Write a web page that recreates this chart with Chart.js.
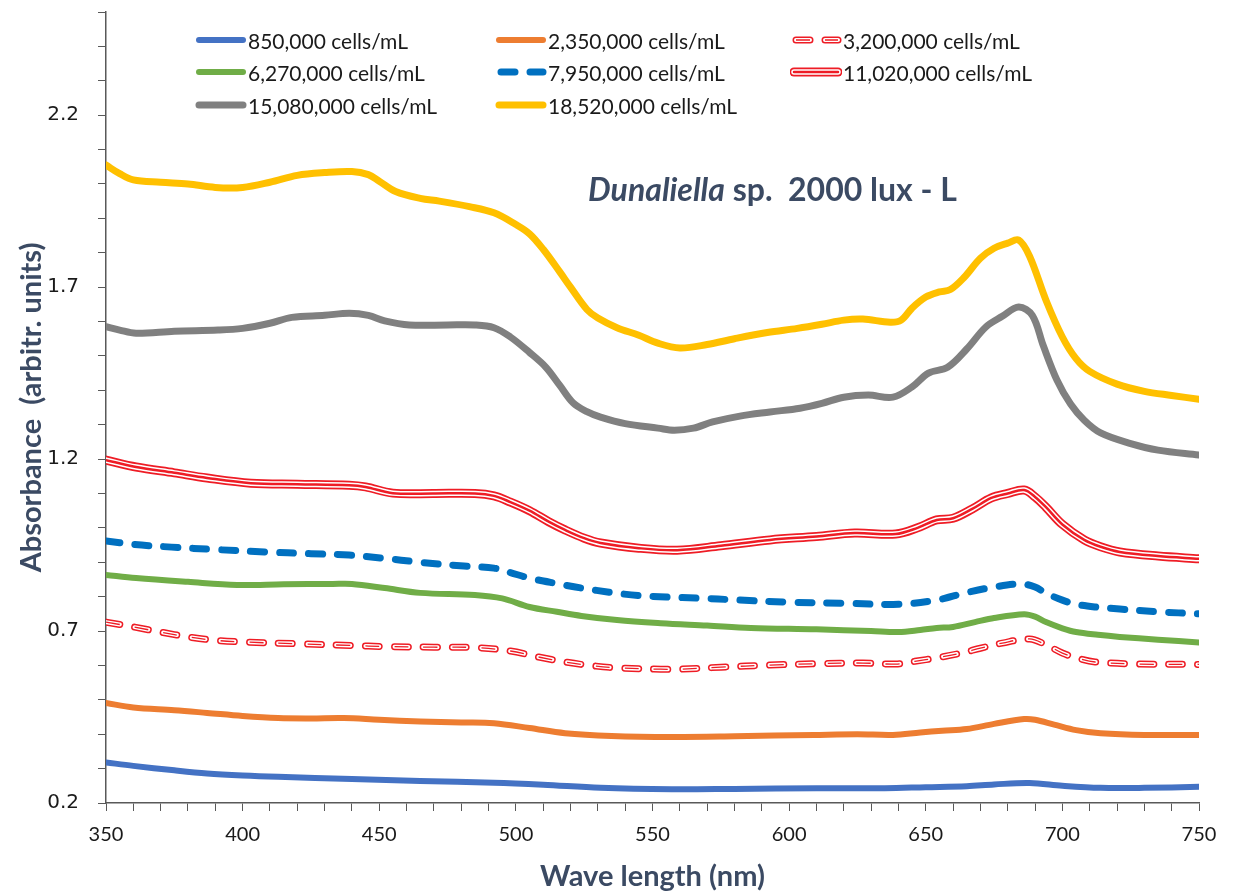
<!DOCTYPE html>
<html>
<head>
<meta charset="utf-8">
<script src="https://cdn.jsdelivr.net/npm/chart.js@4.4.1/dist/chart.umd.min.js"></script>
<style>
    html, body { margin: 0; padding: 0; background: #fff; }
    #wrap { position: relative; width: 1234px; height: 894px; }
    #legend { position: absolute; left: 0; top: 0; }
    .lg-item { position: absolute; height: 30px; display: flex; align-items: center;
               font-family: Lato, 'Open Sans', sans-serif; font-size: 21px; color: #1a1a1a; white-space: nowrap; }
    .lg-item svg { display: block; margin-right: 1px; }
    #title { position: absolute; left: 588px; top: 170px; font-family: Lato, 'Open Sans', sans-serif;
             font-weight: bold; font-size: 32px; line-height: 38px; color: #3b4a63; white-space: pre; }
</style>
</head>
<body>
<div id="wrap">
    <canvas id="myChart"></canvas>
    <div id="title"><i>Dunaliella</i> sp.  2000 lux - L</div>
    <div id="legend"></div>
</div>
<script>
// values (wavelength in nm, absorbance in arbitr. units)
var seriesLabels = ['850,000 cells/mL', '2,350,000 cells/mL', '3,200,000 cells/mL', '6,270,000 cells/mL',
    '7,950,000 cells/mL', '11,020,000 cells/mL', '15,080,000 cells/mL', '18,520,000 cells/mL'];

var wl850 = [350, 360, 375, 387, 400, 413, 440, 465, 492, 510, 531, 557, 580, 610, 635, 650, 665, 675, 688, 700, 714, 730, 750];
var abs850 = [0.318, 0.308, 0.295, 0.286, 0.280, 0.276, 0.270, 0.264, 0.259, 0.253, 0.244, 0.240, 0.241, 0.243, 0.243, 0.246, 0.249, 0.254, 0.258, 0.250, 0.244, 0.244, 0.247];

var wl2350 = [350, 360, 375, 387, 400, 413, 425, 437, 450, 465, 480, 492, 505, 518, 535, 557, 580, 609, 625, 638, 648, 656, 665, 675, 686, 690, 697, 705, 714, 730, 750];
var abs2350 = [0.491, 0.478, 0.470, 0.462, 0.453, 0.447, 0.446, 0.447, 0.442, 0.437, 0.434, 0.432, 0.418, 0.403, 0.395, 0.392, 0.394, 0.398, 0.400, 0.398, 0.405, 0.410, 0.415, 0.430, 0.444, 0.442, 0.428, 0.412, 0.403, 0.398, 0.398];

var wl3200 = [350, 360, 370, 380, 390, 401, 420, 440, 452, 470, 485, 498, 508, 518, 527, 537, 553, 560, 575, 593, 610, 627, 639, 646, 654, 663, 670, 678, 688, 694, 700, 706, 712, 728, 750];
var abs3200 = [0.726, 0.712, 0.697, 0.683, 0.673, 0.668, 0.663, 0.658, 0.655, 0.653, 0.652, 0.642, 0.625, 0.610, 0.600, 0.593, 0.589, 0.589, 0.595, 0.601, 0.605, 0.607, 0.604, 0.612, 0.622, 0.636, 0.650, 0.665, 0.677, 0.660, 0.636, 0.620, 0.610, 0.604, 0.603];

var wl6270 = [350, 361, 380, 398, 415, 433, 440, 452, 465, 485, 495, 505, 515, 524, 537, 553, 570, 586, 610, 630, 640, 648, 654, 660, 668, 675, 686, 690, 694, 700, 705, 713, 721, 735, 750];
var abs6270 = [0.863, 0.854, 0.843, 0.834, 0.836, 0.837, 0.837, 0.825, 0.811, 0.805, 0.795, 0.770, 0.756, 0.744, 0.732, 0.723, 0.716, 0.709, 0.705, 0.700, 0.697, 0.703, 0.709, 0.712, 0.726, 0.738, 0.749, 0.742, 0.726, 0.708, 0.697, 0.689, 0.683, 0.675, 0.667];

var wl7950 = [350, 360, 374, 390, 408, 425, 439, 451, 465, 481, 492, 498, 505, 515, 524, 535, 545, 555, 566, 582, 600, 620, 640, 654, 664, 675, 685, 690, 694, 700, 705, 712, 721, 735, 750];
var abs7950 = [0.962, 0.952, 0.944, 0.937, 0.930, 0.925, 0.921, 0.912, 0.900, 0.889, 0.883, 0.870, 0.854, 0.838, 0.825, 0.812, 0.803, 0.799, 0.796, 0.790, 0.784, 0.781, 0.778, 0.790, 0.810, 0.828, 0.837, 0.828, 0.810, 0.790, 0.778, 0.770, 0.764, 0.756, 0.750];

var wl11020 = [350, 361, 375, 387, 403, 420, 439, 445, 455, 470, 485, 492, 498, 505, 512, 518, 525, 531, 545, 559, 575, 593, 610, 624, 639, 647, 654, 660, 667, 674, 680, 686, 690, 694, 700, 708, 714, 721, 735, 750];
var abs11020 = [1.197, 1.177, 1.160, 1.145, 1.130, 1.127, 1.124, 1.119, 1.101, 1.100, 1.100, 1.093, 1.075, 1.050, 1.018, 0.994, 0.970, 0.956, 0.941, 0.935, 0.948, 0.965, 0.975, 0.985, 0.982, 1.000, 1.023, 1.028, 1.055, 1.087, 1.100, 1.110, 1.090, 1.060, 1.010, 0.965, 0.945, 0.930, 0.918, 0.910];

var wl15080 = [350, 355, 361, 375, 391, 400, 410, 418, 430, 439, 446, 452, 461, 475, 485, 492, 498, 505, 511, 516, 521, 526, 531, 540, 552, 558, 565, 572, 582, 593, 604, 612, 620, 629, 638, 645, 651, 658, 665, 672, 678, 684, 689, 693, 698, 703, 708, 714, 725, 735, 750];
var abs15080 = [1.585, 1.575, 1.566, 1.572, 1.575, 1.580, 1.595, 1.612, 1.618, 1.624, 1.618, 1.602, 1.590, 1.590, 1.590, 1.582, 1.555, 1.510, 1.467, 1.415, 1.363, 1.338, 1.322, 1.303, 1.290, 1.284, 1.290, 1.308, 1.325, 1.337, 1.348, 1.362, 1.380, 1.386, 1.380, 1.410, 1.450, 1.467, 1.520, 1.584, 1.615, 1.642, 1.618, 1.530, 1.430, 1.360, 1.313, 1.276, 1.245, 1.226, 1.212];

var wl18520 = [350, 355, 360, 370, 380, 390, 400, 410, 420, 430, 440, 446, 450, 456, 465, 472, 483, 492, 500, 505, 510, 516, 520, 526, 530, 537, 545, 552, 560, 570, 580, 592, 603, 612, 620, 627, 637, 641, 645, 650, 655, 659, 664, 670, 675, 680, 684, 688, 694, 700, 705, 710, 720, 730, 740, 750];
var abs18520 = [2.055, 2.030, 2.012, 2.005, 2.000, 1.990, 1.990, 2.005, 2.025, 2.033, 2.036, 2.027, 2.008, 1.978, 1.958, 1.950, 1.934, 1.916, 1.882, 1.855, 1.810, 1.745, 1.700, 1.635, 1.610, 1.582, 1.560, 1.537, 1.523, 1.533, 1.550, 1.568, 1.580, 1.592, 1.604, 1.607, 1.598, 1.604, 1.639, 1.671, 1.686, 1.693, 1.728, 1.784, 1.813, 1.828, 1.837, 1.790, 1.662, 1.555, 1.492, 1.455, 1.418, 1.397, 1.385, 1.374];

var xTicksMajor = [350, 400, 450, 500, 550, 600, 650, 700, 750];
var yTicksMajor = [0.2, 0.7, 1.2, 1.7, 2.2];

var RED = '#ee1c25';
var TXT = '#3b4a63';

function pts(xs, ys) {
    return xs.map(function (x, i) { return { x: x, y: ys[i] }; });
}

// one entry per legend item; some need several stacked strokes (compound lines)
var styles = [
    { layers: [{ color: '#4472c4', width: 6 }] },
    { layers: [{ color: '#ed7d31', width: 6 }] },
    { layers: [{ color: RED, width: 7, dash: [14, 15] }, { color: '#fff', width: 4, dash: [14, 15] }, { color: RED, width: 1.3, dash: [14, 15], cap: 'butt' }] },
    { layers: [{ color: '#70ad47', width: 6 }] },
    { layers: [{ color: '#0070c0', width: 7, dash: [14, 15] }] },
    { layers: [{ color: RED, width: 9 }, { color: '#fff', width: 5.5 }, { color: RED, width: 2.5 }] },
    { layers: [{ color: '#808080', width: 7 }] },
    { layers: [{ color: '#ffc000', width: 7 }] }
];
var seriesData = [
    pts(wl850, abs850), pts(wl2350, abs2350), pts(wl3200, abs3200), pts(wl6270, abs6270),
    pts(wl7950, abs7950), pts(wl11020, abs11020), pts(wl15080, abs15080), pts(wl18520, abs18520)
];

var datasets = [];
styles.forEach(function (st, i) {
    var n = st.layers.length;
    st.layers.forEach(function (ly, k) {
        datasets.push({
            label: seriesLabels[i],
            data: seriesData[i],
            borderColor: ly.color,
            borderWidth: ly.width,
            borderDash: ly.dash || [],
            borderCapStyle: ly.cap || 'round',
            borderJoinStyle: 'round',
            tension: 0.35,
            pointRadius: 0,
            fill: false,
            order: n - k
        });
    });
});

var tickFont = { family: 'Lato, sans-serif', size: 20 };

var chart = new Chart(document.getElementById('myChart').getContext('2d'), {
    type: 'line',
    data: { datasets: datasets },
    options: {
        responsive: true,
        maintainAspectRatio: false,
        animation: false,
        layout: { padding: { top: 12, right: 35, left: 0, bottom: 0 } },
        plugins: { legend: { display: false }, tooltip: { enabled: false } },
        scales: {
            x: {
                type: 'linear',
                min: 350, max: 750,
                border: { display: true, color: '#595959', width: 1.5 },
                grid: { drawOnChartArea: false, drawTicks: true, tickLength: 8, color: '#595959' },
                ticks: {
                    stepSize: 10, autoSkip: false, maxRotation: 0, padding: 12,
                    color: '#1a1a1a', font: tickFont,
                    callback: function (v) { return xTicksMajor.indexOf(v) >= 0 ? String(v) : ''; }
                },
                title: { display: true, text: 'Wave length (nm)', color: TXT,
                         font: { family: 'Lato, sans-serif', size: 29, weight: 'bold' }, padding: { top: 0, bottom: 0 } },
                afterFit: function (scale) { scale.height = 91; }
            },
            y: {
                type: 'linear',
                min: 0.2, max: 2.5,
                border: { display: true, color: '#595959', width: 1.5 },
                grid: { drawOnChartArea: false, drawTicks: true, tickLength: 8, color: '#595959' },
                ticks: {
                    stepSize: 0.1, autoSkip: false, padding: 19,
                    color: '#1a1a1a', font: { family: 'DejaVu Sans, sans-serif', size: 20 },
                    callback: function (v) {
                        var hit = yTicksMajor.some(function (m) { return Math.abs(m - v) < 1e-6; });
                        return hit ? v.toFixed(1) : '';
                    }
                },
                title: { display: true, text: 'Absorbance  (arbitr. units)', color: TXT,
                         font: { family: 'Lato, sans-serif', size: 29, weight: 'bold' }, padding: { top: 14, bottom: 0 } },
                afterFit: function (scale) {
                    scale.width = 106;
                    scale.paddingTop = 0;
                    scale.paddingBottom = 0;
                }
            }
        }
    }
});

// html legend, three columns like the original
var legendCols = [195, 495, 790];
var legendRows = [25, 57, 90];
var lg = document.getElementById('legend');
styles.forEach(function (st, i) {
    var item = document.createElement('div');
    item.className = 'lg-item';
    item.style.left = legendCols[i % 3] + 'px';
    item.style.top = legendRows[Math.floor(i / 3)] + 'px';
    var svg = '<svg width="52" height="14">';
    st.layers.forEach(function (ly) {
        svg += '<line x1="4" y1="7" x2="48" y2="7" stroke="' + ly.color + '" stroke-width="' + ly.width + '"' +
            ' stroke-linecap="' + (ly.cap || 'round') + '"' +
            (ly.dash ? ' stroke-dasharray="14 15" stroke-dashoffset="-2"' : '') + '/>';
    });
    svg += '</svg>';
    item.innerHTML = svg + '<span>' + seriesLabels[i] + '</span>';
    lg.appendChild(item);
});
</script>
</body>
</html>
